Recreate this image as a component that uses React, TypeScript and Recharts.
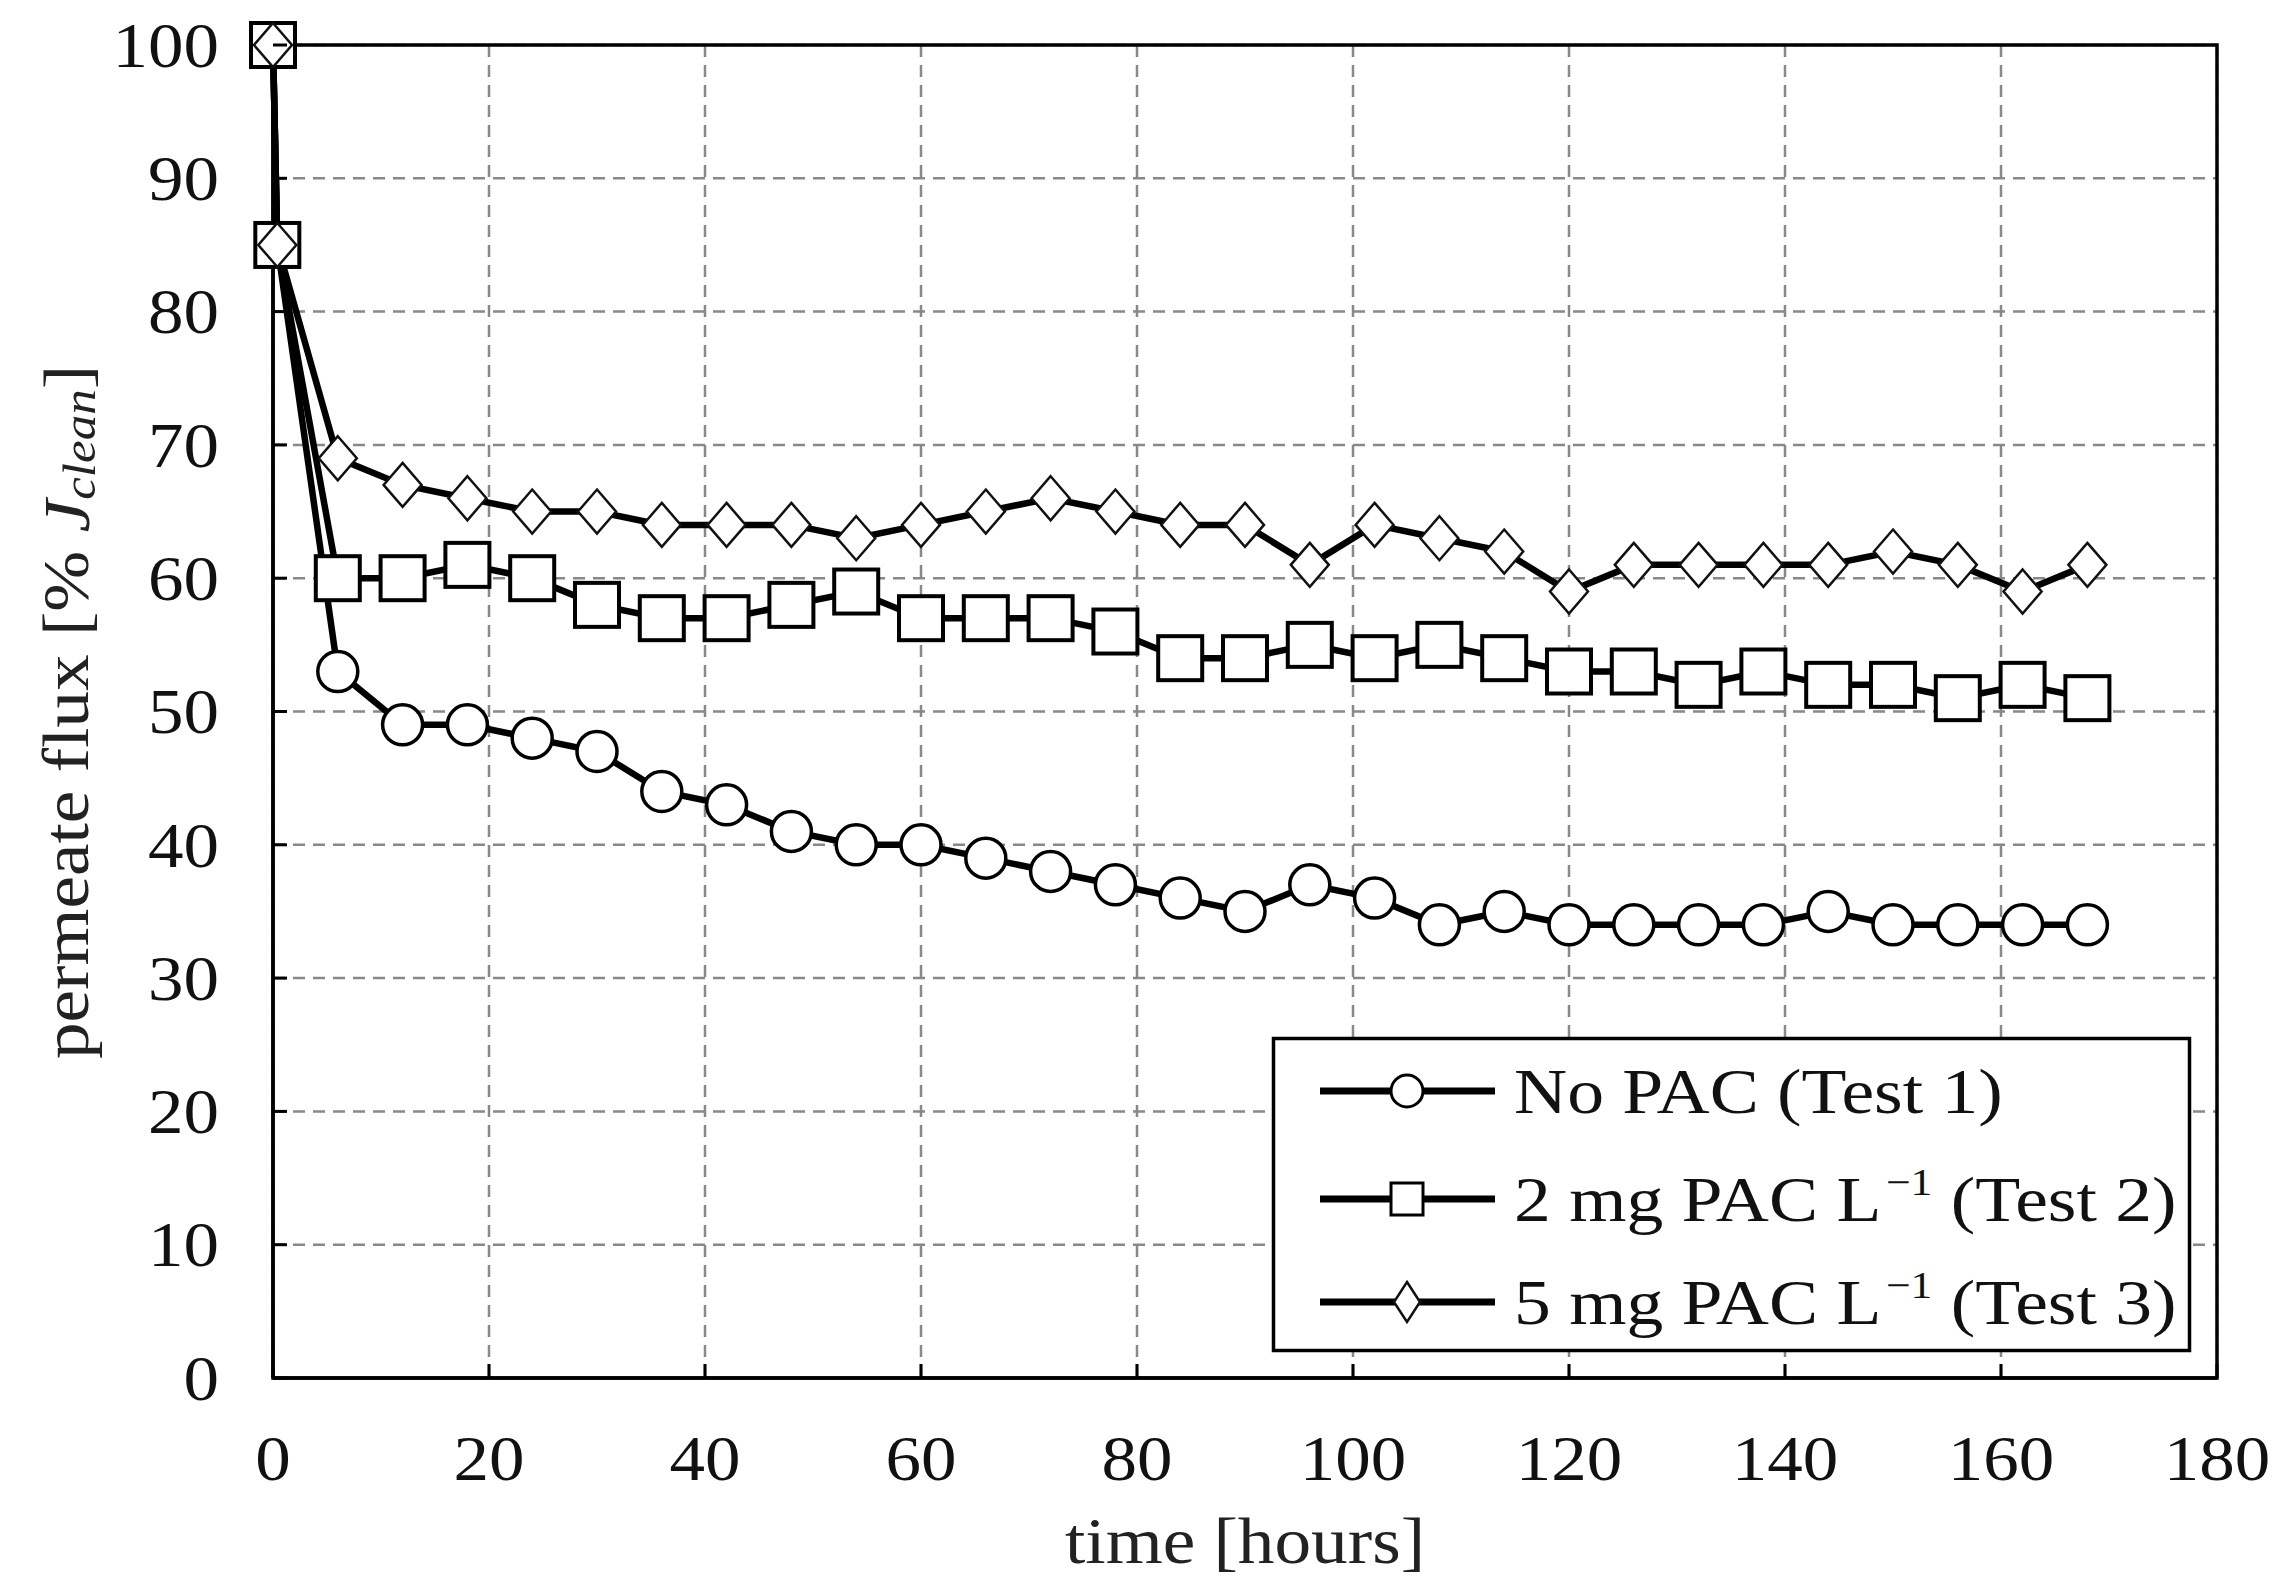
import React from "react";
import { ComposedChart, Line, XAxis, YAxis, CartesianGrid, ReferenceArea } from "recharts";

// time [hours]
const hours = [
  0, 0.4, 6, 12, 18, 24, 30, 36, 42, 48, 54, 60, 66, 72, 78, 84, 90, 96, 102,
  108, 114, 120, 126, 132, 138, 144, 150, 156, 162, 168,
];

// permeate flux [% J_clean]
const noPac = [
  100, 85, 53, 49, 49, 48, 47, 44, 43, 41, 40, 40, 39, 38, 37, 36, 35, 37, 36,
  34, 35, 34, 34, 34, 34, 35, 34, 34, 34, 34,
];
const pac2 = [
  100, 85, 60, 60, 61, 60, 58, 57, 57, 58, 59, 57, 57, 57, 56, 54, 54, 55, 54,
  55, 54, 53, 53, 52, 53, 52, 52, 51, 52, 51,
];
const pac5 = [
  100, 85, 69, 67, 66, 65, 65, 64, 64, 64, 63, 64, 65, 66, 65, 64, 64, 61, 64,
  63, 62, 59, 61, 61, 61, 61, 62, 61, 59, 61,
];

const xTicks = [0, 20, 40, 60, 80, 100, 120, 140, 160, 180];
const yTicks = [0, 10, 20, 30, 40, 50, 60, 70, 80, 90, 100];

const data = hours.map((t, i) => ({ t, a: noPac[i], b: pac2[i], c: pac5[i] }));

const FONT = "'Liberation Serif', 'Times New Roman', serif";
const W = 2287;
const H = 1593;
const WIDEN = "scale(1.11,1)";

const circleDot = (p: any) => (
  <circle key={`c${p.index}`} cx={p.cx} cy={p.cy} r={20} fill="#fff" stroke="#000" strokeWidth={3.5} />
);
const squareDot = (p: any) => (
  <rect key={`s${p.index}`} x={p.cx - 22} y={p.cy - 22} width={44} height={44} fill="#fff" stroke="#000" strokeWidth={4} />
);
const diamondDot = (p: any) => (
  <polygon
    key={`d${p.index}`}
    points={`${p.cx},${p.cy - 22} ${p.cx + 19},${p.cy} ${p.cx},${p.cy + 22} ${p.cx - 19},${p.cy}`}
    fill="#fff"
    stroke="#111"
    strokeWidth={2.5}
  />
);

const YTick = (p: any) => (
  <g>
    <g transform={`translate(${p.x},${p.y})`}>
      <text transform={WIDEN} dy="0.34em" textAnchor="end" fontFamily={FONT} fontSize={64} fill="#111">
        {p.payload.value}
      </text>
    </g>
    <line x1={p.x + 54} x2={p.x + 68} y1={p.y} y2={p.y} stroke="#000" strokeWidth={3} />
  </g>
);

const XTick = (p: any) => (
  <g>
    <g transform={`translate(${p.x},${p.y + 102})`}>
      <text transform={WIDEN} textAnchor="middle" fontFamily={FONT} fontSize={64} fill="#111">
        {p.payload.value}
      </text>
    </g>
    <line x1={p.x} x2={p.x} y1={p.y} y2={p.y - 14} stroke="#000" strokeWidth={3} />
  </g>
);

const XLabel = (p: any) => {
  const vb = p.viewBox;
  return (
    <g transform={`translate(${vb.x + vb.width / 2},${vb.y + vb.height - 30})`}>
      <text transform={WIDEN} textAnchor="middle" fontFamily={FONT} fontSize={66} fill="#222">
        time [hours]
      </text>
    </g>
  );
};

const YLabel = () => (
  <g transform="translate(66,712) rotate(-90)">
    <text
      transform={WIDEN}
      textAnchor="middle"
      dominantBaseline="central"
      fontFamily={FONT}
      fontSize={66}
      fill="#222"
    >
      permeate flux [%{" "}
      <tspan fontStyle="italic">J</tspan>
      <tspan fontStyle="italic" fontSize={46} dy={14}>clean</tspan>
      <tspan dy={-14}>]</tspan>
    </text>
  </g>
);

const legendRows = [
  { name: ["No PAC (Test 1)"], marker: "circle" },
  { name: ["2 mg PAC L", "\u22121", " (Test 2)"], marker: "square" },
  { name: ["5 mg PAC L", "\u22121", " (Test 3)"], marker: "diamond" },
];

function Legendbox() {
  const rowY = [54, 162, 265];
  return (
    <svg
      width={919}
      height={315}
      style={{ position: "absolute", left: 1272, top: 1037, overflow: "visible" }}
    >
      <rect x={1.5} y={1.5} width={916} height={312} fill="#fff" stroke="#000" strokeWidth={3.5} />
      {legendRows.map((r, i) => {
        const y = rowY[i];
        return (
          <g key={i}>
            <line x1={48} x2={223} y1={y} y2={y} stroke="#000" strokeWidth={7} />
            {r.marker === "circle" && (
              <circle cx={135} cy={y} r={16} fill="#fff" stroke="#000" strokeWidth={3} />
            )}
            {r.marker === "square" && (
              <rect x={119} y={y - 16} width={32} height={32} fill="#fff" stroke="#000" strokeWidth={3} />
            )}
            {r.marker === "diamond" && (
              <polygon
                points={`135,${y - 20} 148,${y} 135,${y + 20} 122,${y}`}
                fill="#fff"
                stroke="#111"
                strokeWidth={2.5}
              />
            )}
            <g transform={`translate(242,${y})`}>
              <text transform="scale(1.15,1)" dy="0.34em" fontFamily={FONT} fontSize={64} fill="#111">
                {r.name[0]}
                {r.name[1] && (
                  <tspan fontSize={38} dx={4} dy={-26}>
                    {r.name[1]}
                  </tspan>
                )}
                {r.name[2] && <tspan dy={26}>{r.name[2]}</tspan>}
              </text>
            </g>
          </g>
        );
      })}
    </svg>
  );
}

export default function App() {
  return (
    <div style={{ position: "absolute", left: 0, top: 0, width: W, height: H, background: "#fff" }}>
      <ComposedChart
        width={W}
        height={H}
        data={data}
        margin={{ top: 45, right: 70, bottom: 0, left: 0 }}
        style={{ fontFamily: FONT }}
      >
        <CartesianGrid stroke="#888" strokeWidth={2.5} strokeDasharray="12 8" />
        <XAxis
          dataKey="t"
          type="number"
          domain={[0, 180]}
          ticks={xTicks}
          interval={0}
          height={215}
          tickSize={0}
          tickMargin={0}
          tick={<XTick />}
          axisLine={{ stroke: "#000", strokeWidth: 3.5 }}
          tickLine={false}
          label={<XLabel />}
        />
        <YAxis
          type="number"
          domain={[0, 100]}
          ticks={yTicks}
          interval={0}
          width={273}
          tickSize={0}
          tickMargin={54}
          tick={<YTick />}
          axisLine={{ stroke: "#000", strokeWidth: 3.5 }}
          tickLine={false}
          label={<YLabel />}
        />
        <ReferenceArea
          x1={0}
          x2={180}
          y1={0}
          y2={100}
          fill="none"
          stroke="#000"
          strokeWidth={3.5}
          ifOverflow="visible"
        />
        <Line
          dataKey="a"
          type="linear"
          stroke="#000"
          strokeWidth={6.5}
          dot={circleDot}
          activeDot={false}
          isAnimationActive={false}
        />
        <Line
          dataKey="b"
          type="linear"
          stroke="#000"
          strokeWidth={6.5}
          dot={squareDot}
          activeDot={false}
          isAnimationActive={false}
        />
        <Line
          dataKey="c"
          type="linear"
          stroke="#000"
          strokeWidth={6.5}
          dot={diamondDot}
          activeDot={false}
          isAnimationActive={false}
        />
      </ComposedChart>
      <Legendbox />
    </div>
  );
}
